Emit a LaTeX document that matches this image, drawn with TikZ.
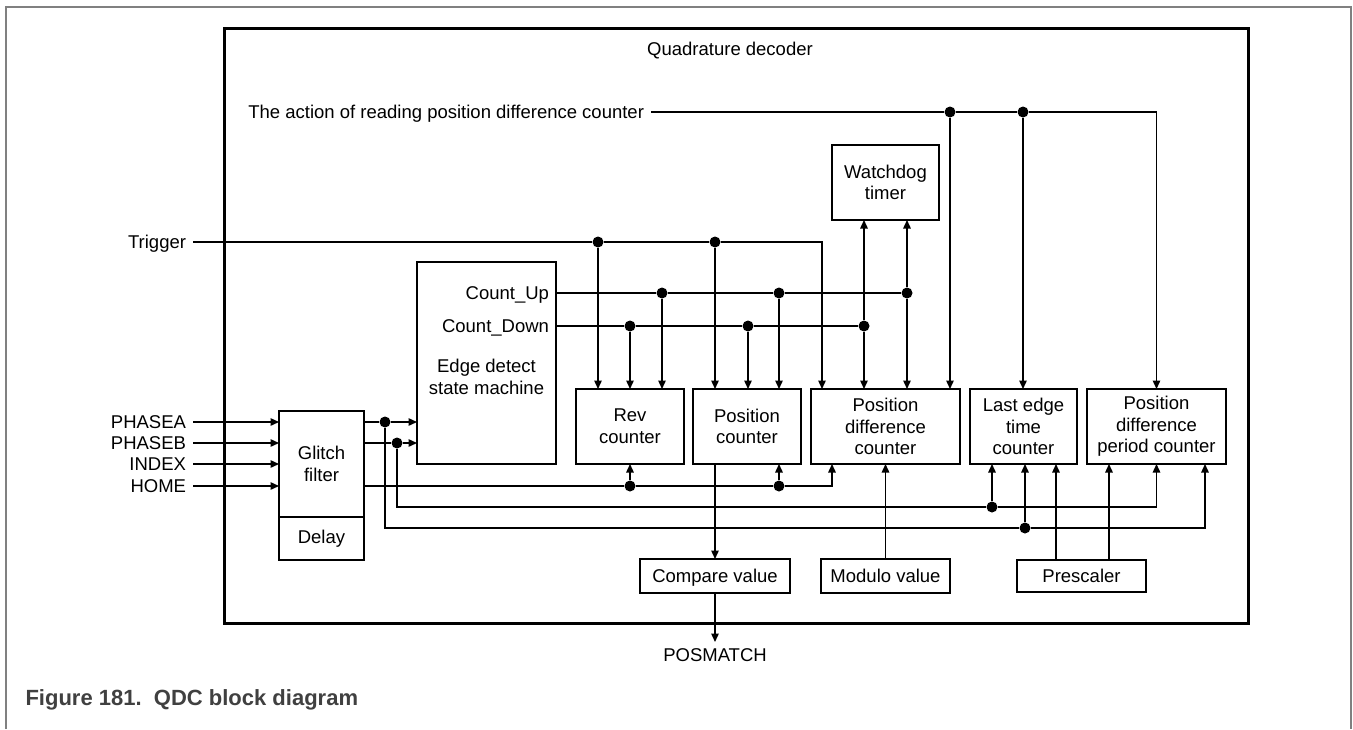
\documentclass[tikz,border=0pt]{standalone}
\usepackage{fontspec}
\setmainfont{Liberation Sans}
\usetikzlibrary{positioning,arrows.meta}
\tikzstyle{line} = [draw, line width=1.4pt, -{Triangle[length=8.5pt,width=7.5pt]}]
\tikzstyle{wire} = [draw, line width=1.4pt]
\tikzstyle{block} = [rectangle, draw=black, line width=2.8pt, align=center, inner sep=0pt, outer sep=0pt]
\tikzstyle{valbox} = [block, minimum height=34pt, text height=13pt, text depth=0pt]
\tikzstyle{jct} = [circle, fill=black, inner sep=0pt, minimum size=11pt]
\tikzstyle{sig} = [inner sep=0pt, outer xsep=7pt, text height=13pt, text depth=0pt]
\definecolor{framegray}{gray}{0.5}
\definecolor{capgray}{gray}{0.25}

\begin{document}
\begin{tikzpicture}[x=1pt, y=-1pt, font=\fontsize{18.5}{21.7}\selectfont]

\useasboundingbox (0,0) rectangle (1353,729);
\draw[framegray, line width=2.2pt] (6,729) -- (6,7) -- (1351,7) -- (1351,729);

\node (qdc) [block, line width=3pt, minimum width=1024pt, minimum height=595pt] at (736,325.5) {};
\node (title) at (730,51) {Quadrature decoder};

\node (rd) [sig, anchor=east] at (651,112) {The action of reading position difference counter};
\node (trig) [sig, anchor=east] at (193,242) {Trigger};

\node (edsm) [block, minimum width=139pt, minimum height=202pt] at (486.5,363) {};
\node (cup) [sig, anchor=east] at (556,293) {Count\_Up};
\node (cdn) [sig, anchor=east] at (556,326) {Count\_Down};
\node (edtxt) [align=center, inner sep=0pt] at (486.5,377) {Edge detect\\state machine};

\node (wd) [block, minimum width=107pt, minimum height=75pt] at (885.5,182.5) {Watchdog\\timer};

\node (rev) [block, minimum width=108pt, minimum height=75pt] at (630,426.5) {Rev\\counter};
\node (pos) [block, minimum width=108pt, minimum height=75pt, right=9pt of rev] {Position\\counter};
\node (pdc) [block, minimum width=149pt, minimum height=75pt, right=10pt of pos] {Position\\difference\\counter};
\node (let) [block, minimum width=107pt, minimum height=75pt, right=10pt of pdc] {Last edge\\time\\counter};
\node (pdp) [block, minimum width=139pt, minimum height=75pt, right=10pt of let] {Position\\difference\\period counter};

\node (gf) [block, minimum width=85pt, minimum height=106pt] at (321.5,464) {Glitch\\filter};
\node (delay) [block, minimum width=85pt, minimum height=43pt, below=0pt of gf] {Delay};

\node (cv) [valbox, minimum width=150pt] at (715,576) {Compare value};
\node (mv) [valbox, minimum width=129pt, right=31pt of cv] {Modulo value};
\node (ps) [valbox, minimum width=129pt, minimum height=32pt] at (1081.5,576) {Prescaler};
\node (posm) [inner sep=0pt, text height=13pt, text depth=0pt, outer ysep=6pt, anchor=north] at (715,642) {POSMATCH};

\foreach \y/\name/\txt in {422/pha/PHASEA, 443/phb/PHASEB, 464/idx/INDEX, 486/home/HOME} {
  \node (\name) [sig, anchor=east] at (193,\y) {\txt};
  \path [line] (\name.east) -- (\name.east -| gf.west);
}

\node (pa) [jct] at (385,422) {};
\node (pb) [jct] at (397,443) {};
\node (pa2) [jct] at (1025,528) {};
\node (pb2) [jct] at (992,507) {};
\node (h1) [jct] at (630,486) {};
\node (h2) [jct] at (779,486) {};
\node (t1) [jct] at (598,242) {};
\node (t2) [jct] at (715,242) {};
\node (u1) [jct] at (662,293) {};
\node (u2) [jct] at (779,293) {};
\node (u3) [jct] at (907,293) {};
\node (d1) [jct] at (630,326) {};
\node (d2) [jct] at (748,326) {};
\node (d3) [jct] at (864,326) {};
\node (r1) [jct] at (950,112) {};
\node (r2) [jct] at (1023,112) {};

% glitch filter outputs
\path [wire] (gf.east |- pa) -- (pa);
\path [line] (pa) -- (pa -| edsm.west);
\path [wire] (gf.east |- pb) -- (pb);
\path [line] (pb) -- (pb -| edsm.west);
\path [line] (pa) |- (pa2) -| ([xshift=-21pt]pdp.south east);
\path [line] (pb) |- (pb2) -| (pdp.south);
\path [line] (pa2) -- (pa2 |- let.south);
\path [line] (pb2) -- (pb2 |- let.south);
\path [line] (home -| gf.east) -- (h1) -- (h2) -| ([xshift=21pt]pdc.south west);
\path [line] (h1) -- (h1 |- rev.south);
\path [line] (h2) -- (h2 |- pos.south);

% trigger
\path [line] (trig.east) -- (t1) -- (t2) -| ([xshift=11pt]pdc.north west);
\path [line] (t1) -- (t1 |- rev.north);
\path [line] (t2) -- (t2 |- pos.north);

% count up / count down
\path [wire] (cup.east) -- (u1) -- (u2) -- (u3);
\path [line] (u1) -- (u1 |- rev.north);
\path [line] (u2) -- (u2 |- pos.north);
\path [line] (u3) -- (u3 |- pdc.north);
\path [line] (u3) -- (u3 |- wd.south);
\path [wire] (cdn.east) -- (d1) -- (d2) -- (d3);
\path [line] (d1) -- (d1 |- rev.north);
\path [line] (d2) -- (d2 |- pos.north);
\path [line] (d3) -- (d3 |- pdc.north);
\path [line] (d3) -- (d3 |- wd.south);

% read of position difference counter
\path [line] (rd.east) -- (r1) -- (r2) -| (pdp.north);
\path [line] (r1) -- (r1 |- pdc.north);
\path [line] (r2) -- (r2 |- let.north);

\path [line] ([xshift=-25.5pt]ps.north) -- ([xshift=-25.5pt]ps.north |- let.south);
\path [line] ([xshift=27.5pt]ps.north) -- ([xshift=27.5pt]ps.north |- pdp.south);
\path [line] (pos.south -| cv.north) -- (cv.north);
\path [line] (mv.north) -- (mv.north |- pdc.south);
\path [line] (cv) -- (posm);

\node (cap) [anchor=west, font=\fontsize{22}{26}\selectfont\bfseries, text=capgray] at (22,700) {Figure 181.\ \ QDC block diagram};

\end{tikzpicture}
\end{document}
